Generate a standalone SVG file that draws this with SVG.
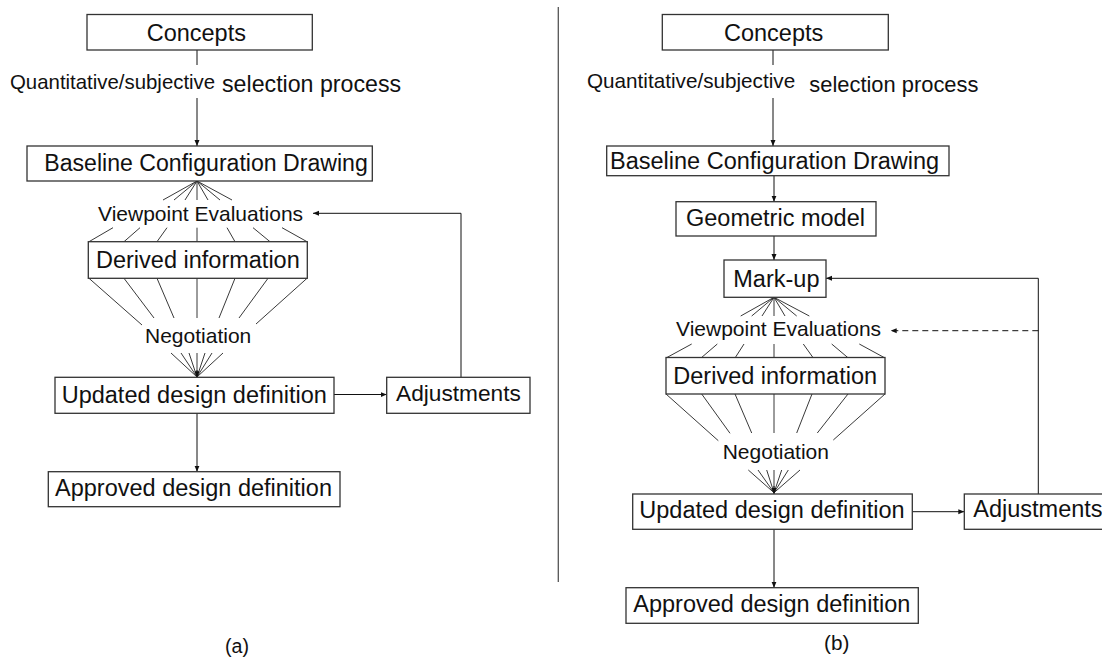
<svg xmlns="http://www.w3.org/2000/svg" width="1102" height="659" viewBox="0 0 1102 659">
<style>
text{font-family:"Liberation Sans",Arial,sans-serif;fill:#111;}
.bx{fill:#fff;stroke:#333;stroke-width:1.3;}
.t{font-size:23.5px;}
.l{font-size:21px;}
.c{fill:none;stroke:#111;stroke-width:1;}
.f{fill:none;stroke:#222;stroke-width:0.9;}
.d{fill:none;stroke:#111;stroke-width:1;stroke-dasharray:6,4;}
</style>
<defs>
<marker id="ah" viewBox="0 0 6 6" refX="6" refY="3" markerWidth="6" markerHeight="6" orient="auto" markerUnits="userSpaceOnUse"><path d="M0,0.5 L6,3 L0,5.5 z" fill="#111"/></marker>
</defs>
<rect width="1102" height="659" fill="#fff"/>

<g id="connectors">
<!-- separator -->
<line x1="558.3" y1="7" x2="558.3" y2="582" stroke="#555" stroke-width="1.3"/>
<!-- LEFT -->
<line class="c" x1="197" y1="50" x2="197" y2="65"/>
<line class="c" x1="197" y1="98" x2="197" y2="146" marker-end="url(#ah)"/>
<path class="f" d="M197,181 L163,200 M197,181 L174,200 M197,181 L185,200 M197,181 L197,200 M197,181 L208,200 M197,181 L220,200 M197,181 L232,200"/>
<path class="f" d="M113,227.7 L89,241.7 M140,227.7 L124,241.7 M167,227.7 L157,241.7 M197,227.7 L197,241.7 M227,227.7 L235,241.7 M253,227.7 L270,241.7 M282,227.7 L307,241.7"/>
<path class="f" d="M89,278.3 L142,325 M124,278.3 L154,318 M157,278.3 L174,318 M197,278.3 L197,318 M235,278.3 L219,318 M268,278.3 L239,318 M307,278.3 L256,324"/>
<path class="f" d="M171,353 L197,377 M181,353 L197,377 M189,353 L197,377 M197,353 L197,377 M205,353 L197,377 M212,353 L197,377 M223,353 L197,377"/>
<line class="c" x1="197" y1="370" x2="197" y2="377.3" marker-end="url(#ah)"/>
<line class="c" x1="334" y1="394.5" x2="386.7" y2="394.5" marker-end="url(#ah)"/>
<path class="c" d="M461,377.3 L461,213.3 L313,213.3" marker-end="url(#ah)"/>
<line class="c" x1="197" y1="413.3" x2="197" y2="471.7" marker-end="url(#ah)"/>
<!-- RIGHT -->
<line class="c" x1="773" y1="50" x2="773" y2="65"/>
<line class="c" x1="773" y1="98" x2="773" y2="146" marker-end="url(#ah)"/>
<line class="c" x1="774" y1="175.7" x2="774" y2="201.7" marker-end="url(#ah)"/>
<line class="c" x1="774" y1="236" x2="774" y2="260" marker-end="url(#ah)"/>
<path class="f" d="M774,297.3 L740.7,316 M774,297.3 L751.7,316 M774,297.3 L762,316 M774,297.3 L774,316 M774,297.3 L785,316 M774,297.3 L796.7,316 M774,297.3 L809.3,316"/>
<path class="f" d="M691.7,344 L666,358 M717.3,344 L701,358 M744,344 L735,358 M774,344 L774,358 M803.3,344 L813.3,358 M831.7,344 L848.3,358 M859.3,344 L885,358"/>
<path class="f" d="M666,394 L718.3,440.7 M701.7,394 L730,433.3 M735,394 L751.7,433 M774,394 L774,433 M812,394 L796.7,433 M848,394 L817.3,433 M885,394 L833.3,440"/>
<path class="f" d="M748.3,470 L774,492.7 M758,470 L774,492.7 M766.7,470 L774,492.7 M774,470 L774,492.7 M781.7,470 L774,492.7 M788.3,470 L774,492.7 M800,470 L774,492.7"/>
<line class="c" x1="774" y1="486" x2="774" y2="494" marker-end="url(#ah)"/>
<line class="c" x1="912.3" y1="511.7" x2="964.3" y2="511.7" marker-end="url(#ah)"/>
<path class="c" d="M1038.3,494 L1038.3,278.3 L826,278.3" marker-end="url(#ah)"/>
<line class="d" x1="1038.3" y1="330.7" x2="890.7" y2="330.7" marker-end="url(#ah)"/>
<line class="c" x1="774" y1="529.3" x2="774" y2="587.7" marker-end="url(#ah)"/>
</g>

<!-- LEFT nodes -->
<g id="a-concepts"><rect class="bx" x="87" y="14.5" width="225.3" height="35.5"/><text class="t" x="146.7" y="40.5">Concepts</text></g>
<g id="a-label-quant"><text x="10" y="88.5" style="font-size:20.4px">Quantitative/subjective</text><text x="222" y="92" style="font-size:23.2px">selection process</text></g>
<g id="a-baseline"><rect class="bx" x="27" y="146" width="345.3" height="35"/><text x="44.3" y="170.5" style="font-size:23.1px">Baseline Configuration Drawing</text></g>
<g id="a-viewpoint"><text class="l" x="98" y="220.7">Viewpoint Evaluations</text></g>
<g id="a-derived"><rect class="bx" x="88.3" y="241.7" width="219" height="36.6"/><text class="t" x="96" y="267.5">Derived information</text></g>
<g id="a-negotiation"><text class="l" x="145" y="343">Negotiation</text></g>
<g id="a-updated"><rect class="bx" x="55" y="377.3" width="279" height="36"/><text class="t" x="61.7" y="402.5">Updated design definition</text></g>
<g id="a-adjust"><rect class="bx" x="386.7" y="377.3" width="143.3" height="36"/><text x="396" y="401" style="font-size:22.7px">Adjustments</text></g>
<g id="a-approved"><rect class="bx" x="48.3" y="471.7" width="291.7" height="35"/><text class="t" x="55" y="496">Approved design definition</text></g>
<g id="a-caption"><text x="225" y="653" style="font-size:19.6px">(a)</text></g>

<!-- RIGHT nodes -->
<g id="b-concepts"><rect class="bx" x="662.3" y="14.5" width="226" height="35.5"/><text class="t" x="724" y="40.5">Concepts</text></g>
<g id="b-label-quant"><text x="587" y="88.3" style="font-size:20.7px">Quantitative/subjective</text><text x="809.3" y="91.7" style="font-size:21.9px">selection process</text></g>
<g id="b-baseline"><rect class="bx" x="606.7" y="146" width="342.3" height="29.7"/><text class="t" x="610" y="169">Baseline Configuration Drawing</text></g>
<g id="b-geometric"><rect class="bx" x="676" y="201.7" width="200" height="34.3"/><text class="t" x="686" y="226">Geometric model</text></g>
<g id="b-markup"><rect class="bx" x="724" y="260" width="102" height="37.3"/><text class="t" x="733.3" y="286.5">Mark-up</text></g>
<g id="b-viewpoint"><text class="l" x="676" y="336">Viewpoint Evaluations</text></g>
<g id="b-derived"><rect class="bx" x="666" y="357.5" width="219" height="36.5"/><text class="t" x="673.3" y="384">Derived information</text></g>
<g id="b-negotiation"><text class="l" x="722.7" y="459.3">Negotiation</text></g>
<g id="b-updated"><rect class="bx" x="632.7" y="494" width="279.6" height="35.3"/><text class="t" x="639.3" y="518">Updated design definition</text></g>
<g id="b-adjust"><rect class="bx" x="964.3" y="494" width="145" height="35.3"/><text class="t" x="973.3" y="517">Adjustments</text></g>
<g id="b-approved"><rect class="bx" x="626" y="587.7" width="292.3" height="35.6"/><text class="t" x="633.3" y="612">Approved design definition</text></g>
<g id="b-caption"><text x="824" y="650" style="font-size:20.7px">(b)</text></g>
</svg>
